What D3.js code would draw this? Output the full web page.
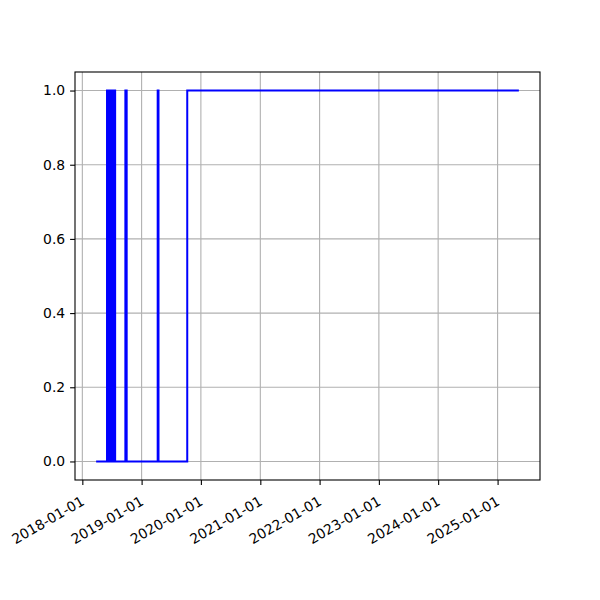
<!DOCTYPE html>
<html>
<head>
<meta charset="utf-8">
<script src="https://cdn.jsdelivr.net/npm/d3@7"></script>
<style>
  body { margin: 0; background: #fff; }
  svg { display: block; }
  text { font-family: "DejaVu Sans", sans-serif; }
</style>
</head>
<body>
<svg id="chart" width="600" height="600"></svg>
<script>
// Data: state over time (0/1)
const dates = [
  "2018-03-27",
  "2018-06-02", "2018-06-02", "2018-06-08", "2018-06-08", "2018-06-13", "2018-06-13",
  "2018-06-19", "2018-06-19", "2018-06-24", "2018-06-24", "2018-06-30", "2018-06-30",
  "2018-07-05", "2018-07-05", "2018-07-11", "2018-07-11", "2018-07-16", "2018-07-16",
  "2018-07-22", "2018-07-22", "2018-07-29", "2018-07-29",
  "2018-09-23", "2018-09-23", "2018-10-01", "2018-10-01",
  "2019-04-10", "2019-04-10", "2019-04-15", "2019-04-15",
  "2019-10-09", "2019-10-09", "2025-05-12"
];
const values = [
  0,
  0, 1, 1, 0, 0, 1,
  1, 0, 0, 1, 1, 0,
  0, 1, 1, 0, 0, 1,
  1, 0, 0, 0,
  0, 1, 1, 0,
  0, 1, 1, 0,
  0, 1, 1
];
const xTickLabels = ["2018-01-01","2019-01-01","2020-01-01","2021-01-01","2022-01-01","2023-01-01","2024-01-01","2025-01-01"];
const yTickValues = [0.0, 0.2, 0.4, 0.6, 0.8, 1.0];

const parse = d3.utcParse("%Y-%m-%d");
const data = dates.map((d, i) => ({ t: parse(d), v: values[i] }));

const svg = d3.select("#chart");
const L = 75, R = 540, T = 72, B = 480;

const tMin = d3.min(data, d => d.t), tMax = d3.max(data, d => d.t);
const pad = (tMax - tMin) * 0.05;
const x = d3.scaleUtc().domain([new Date(+tMin - pad), new Date(+tMax + pad)]).range([L, R]);
const y = d3.scaleLinear().domain([-0.05, 1.05]).range([B, T]);

const xTicks = xTickLabels.map(s => parse(s));

// grid
const g = svg.append("g");
g.selectAll(".gx").data(xTicks).enter().append("line")
  .attr("x1", d => x(d)).attr("x2", d => x(d)).attr("y1", T).attr("y2", B)
  .attr("stroke", "#b0b0b0").attr("stroke-width", 1.1);
g.selectAll(".gy").data(yTickValues).enter().append("line")
  .attr("y1", d => y(d)).attr("y2", d => y(d)).attr("x1", L).attr("x2", R)
  .attr("stroke", "#b0b0b0").attr("stroke-width", 1.1);

// line
const line = d3.line().x(d => x(d.t)).y(d => y(d.v));
svg.append("path").datum(data)
  .attr("d", line).attr("fill", "none")
  .attr("stroke", "#0000ff").attr("stroke-width", 2)
  .attr("stroke-linejoin", "miter").attr("stroke-linecap", "butt");

// axes
const tickLen = 4.9, tickPad = 4.9;
const xAxis = d3.axisBottom(x).tickValues(xTicks).tickFormat(d3.utcFormat("%Y-%m-%d"))
  .tickSizeInner(tickLen).tickSizeOuter(0).tickPadding(tickPad);
const xa = svg.append("g").attr("transform", `translate(0,${B})`).call(xAxis);
xa.select(".domain").remove();
xa.selectAll(".tick line").attr("stroke", "#000").attr("stroke-width", 1.1);
const ang = -30 * Math.PI / 180;
xa.selectAll(".tick text")
  .attr("font-size", 13.9).attr("fill", "#000")
  .attr("text-anchor", "start")
  .attr("x", 0).attr("y", 0).attr("dy", null)
  .each(function() {
    const bb = this.getBBox();
    const corners = [[bb.x, bb.y], [bb.x + bb.width, bb.y], [bb.x, bb.y + bb.height], [bb.x + bb.width, bb.y + bb.height]]
      .map(([px, py]) => [px * Math.cos(ang) - py * Math.sin(ang), px * Math.sin(ang) + py * Math.cos(ang)]);
    const maxX = d3.max(corners, c => c[0]);
    const minY = d3.min(corners, c => c[1]);
    const tx = -maxX + 4, ty = tickLen + tickPad - minY + 3;
    d3.select(this).attr("transform", `translate(${tx},${ty}) rotate(-30)`);
  });

const yAxis = d3.axisLeft(y).tickValues(yTickValues).tickFormat(d3.format(".1f"))
  .tickSizeInner(tickLen).tickSizeOuter(0).tickPadding(tickPad);
const ya = svg.append("g").attr("transform", `translate(${L},0)`).call(yAxis);
ya.select(".domain").remove();
ya.selectAll(".tick line").attr("stroke", "#000").attr("stroke-width", 1.1);
ya.selectAll(".tick text").attr("font-size", 13.9).attr("fill", "#000");

// frame
svg.append("rect").attr("x", L).attr("y", T).attr("width", R - L).attr("height", B - T)
  .attr("fill", "none").attr("stroke", "#000").attr("stroke-width", 1.1);
</script>
</body>
</html>
